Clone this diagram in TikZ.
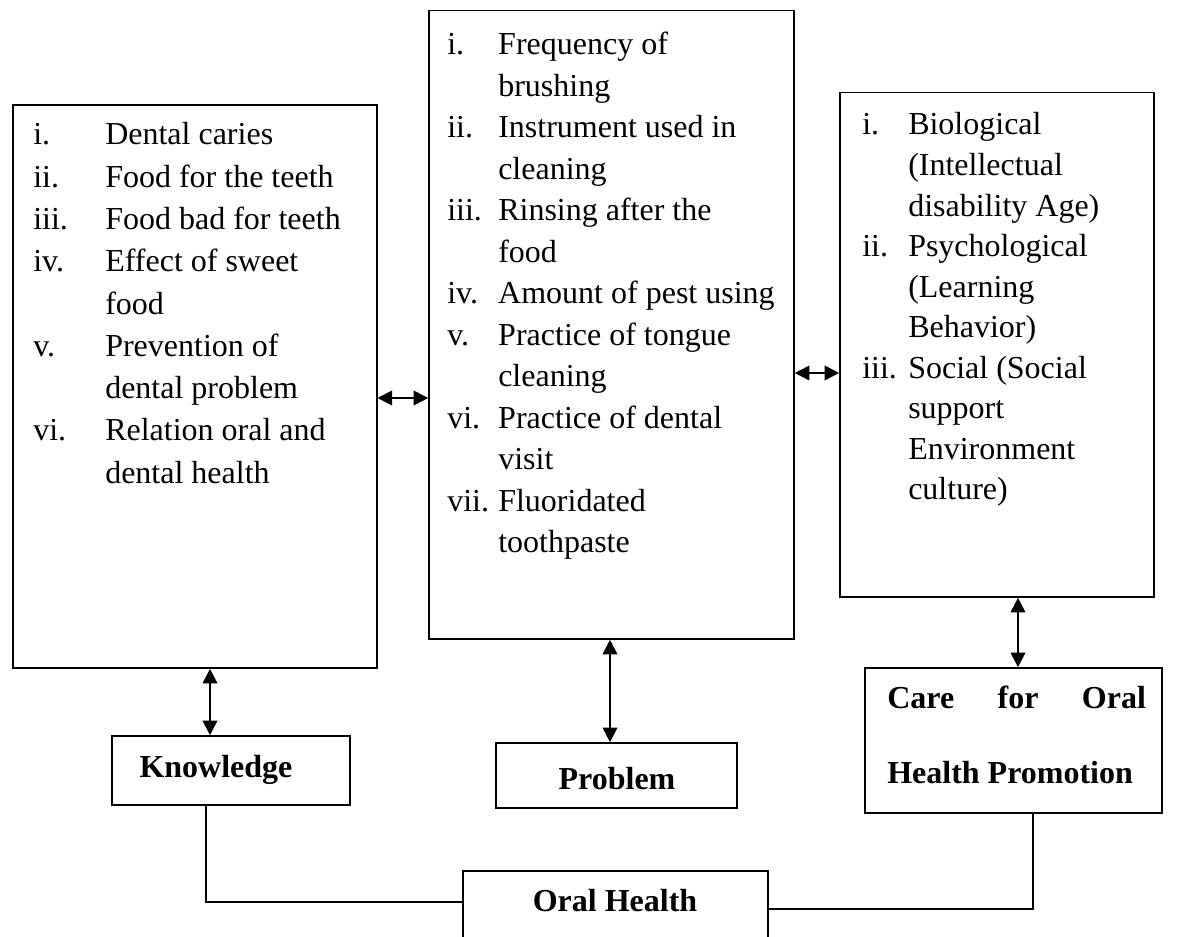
\documentclass[tikz,border=0pt]{standalone}
\usepackage{fontspec}
\setmainfont{Liberation Serif}
\usetikzlibrary{arrows.meta,fit}
\tikzset{
  box/.style={draw, line width=1.2pt, inner sep=0pt, fit=#1},
  txt/.style={anchor=base west, inner sep=0pt, align=left},
  lbl/.style={anchor=base, inner sep=0pt, font=\fontsize{24}{28}\selectfont\bfseries},
  dbl/.style={line width=1.4pt, {Triangle[length=11pt,width=11pt]}-{Triangle[length=11pt,width=11pt]}},
  link/.style={line width=1pt},
}
\begin{document}
\begin{tikzpicture}[x=0.75pt,y=-0.75pt]
\useasboundingbox (0,0) rectangle (1182,937);
\clip (0,0) rectangle (1182,937);
% frame corners
\coordinate (L1) at (12.7,105);  \coordinate (L2) at (376.7,668);
\coordinate (M1) at (429,10.7);  \coordinate (M2) at (794,639);
\coordinate (R1) at (840,92.7);  \coordinate (R2) at (1154,597);
\coordinate (K1) at (112,736);   \coordinate (K2) at (350,805);
\coordinate (P1) at (496,743);   \coordinate (P2) at (737,808);
\coordinate (C1) at (865,668);   \coordinate (C2) at (1162,813);
\coordinate (O1) at (463,871);   \coordinate (O2) at (768,980);
\node[box={(L1)(L2)}] (L) {};
\node[box={(M1)(M2)}] (M) {};
\node[box={(R1)(R2)}] (R) {};
\node[box={(K1)(K2)}] (K) {};
\node[box={(P1)(P2)}] (P) {};
\node[box={(C1)(C2)}] (C) {};
\node[box={(O1)(O2)}] (O) {};
% texts
\node[txt, font=\fontsize{24}{31.7}\selectfont] (Lt) at (33,145) {\begin{tabular}[t]{@{}p{54pt}@{}l@{}}
i. & Dental caries\\
ii. & Food for the teeth\\
iii. & Food bad for teeth\\
iv. & Effect of sweet\\
 & food\\
v. & Prevention of\\
 & dental problem\\
vi. & Relation oral and\\
 & dental health
\end{tabular}};
\node[txt, font=\fontsize{24}{31.1}\selectfont] (Mt) at (447,55) {\begin{tabular}[t]{@{}p{38.25pt}@{}l@{}}
i. & Frequency of\\
 & brushing\\
ii. & Instrument used in\\
 & cleaning\\
iii. & Rinsing after the\\
 & food\\
iv. & Amount of pest using\\
v. & Practice of tongue\\
 & cleaning\\
vi. & Practice of dental\\
 & visit\\
vii. & Fluoridated\\
 & toothpaste
\end{tabular}};
\node[txt, font=\fontsize{24}{30.4}\selectfont] (Rt) at (862,135) {\begin{tabular}[t]{@{}p{34.5pt}@{}l@{}}
i. & Biological\\
 & (Intellectual\\
 & disability Age)\\
ii. & Psychological\\
 & (Learning\\
 & Behavior)\\
iii. & Social (Social\\
 & support\\
 & Environment\\
 & culture)
\end{tabular}};
\node[lbl] (Kt) at (216,777) {Knowledge};
\node[lbl] (Pt) at (617,789) {Problem};
\node[lbl] (Ot) at (615,911) {Oral Health};
\node[txt, font=\fontsize{24}{56.25}\selectfont\bfseries] (Ct) at (887,708) {\begin{tabular}[t]{@{}l@{}}
\makebox[194pt][s]{Care for Oral}\\
Health Promotion
\end{tabular}};
% connectors
\coordinate (xa) at (210,0);
\coordinate (xb) at (610,0);
\coordinate (xc) at (1018,0);
\coordinate (xk) at (206,0);
\coordinate (xq) at (1033,0);
\coordinate (ya) at (0,398);
\coordinate (yb) at (0,373);
\coordinate (yl) at (0,902);
\coordinate (yr) at (0,909);
\draw[dbl] (L.east |- ya) -- (M.west |- ya);
\draw[dbl] (M.east |- yb) -- (R.west |- yb);
\draw[dbl] (xa |- L.south) -- (xa |- K.north);
\draw[dbl] (xb |- M.south) -- (xb |- P.north);
\draw[dbl] (xc |- R.south) -- (xc |- C.north);
\draw[link] (xk |- K.south) -- (xk |- yl) -- (O.west |- yl);
\draw[link] (xq |- C.south) -- (xq |- yr) -- (O.east |- yr);
\end{tikzpicture}
\end{document}
